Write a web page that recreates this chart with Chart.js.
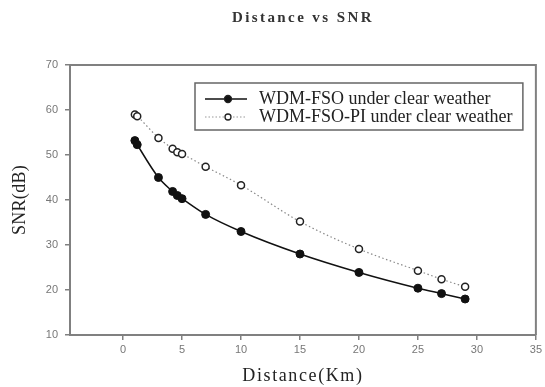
<!DOCTYPE html>
<html><head><meta charset="utf-8">
<script src="https://cdn.jsdelivr.net/npm/chart.js@4/dist/chart.umd.min.js"></script>
<style>html,body{margin:0;padding:0;background:#fff;} #wrap{width:545px;height:387px;}</style>
</head><body><div id="wrap"><canvas id="c" width="545" height="387"></canvas></div>
<script>
const chartTitle = 'Distance vs SNR';
const xTitle = 'Distance(Km)';
const yTitle = 'SNR(dB)';
const seriesLabels = ['WDM-FSO under clear weather', 'WDM-FSO-PI under clear weather'];
const distanceKm = [1, 1.2, 3, 4.2, 4.6, 5, 7, 10, 15, 20, 25, 27, 29];
const snrWdmFso = [53.2, 52.3, 45, 41.9, 41, 40.3, 36.8, 33, 28, 23.9, 20.4, 19.2, 18];
const snrWdmFsoPi = [59, 58.6, 53.8, 51.4, 50.6, 50.2, 47.4, 43.3, 35.2, 29.1, 24.3, 22.4, 20.7];
const xTicks = [0, 5, 10, 15, 20, 25, 30, 35];
const yTicks = [10, 20, 30, 40, 50, 60, 70];

const toPts = (ys) => distanceKm.map((x, i) => ({ x: x, y: ys[i] }));

const spacingPlugin = {
  id: 'spacing',
  afterLayout(chart) {
    const wrap = (obj, method, sp, centerOnArea) => {
      if (!obj || obj['_w_' + method]) return;
      const orig = obj[method];
      obj[method] = function (...a) {
        const c = chart.ctx; c.save(); c.letterSpacing = sp;
        if (centerOnArea) {
          const ca = chart.chartArea;
          c.translate((ca.left + ca.right) / 2 - (this.left + this.right) / 2, 0);
        }
        const r = orig.apply(this, a); c.restore(); return r;
      };
      obj['_w_' + method] = true;
    };
    wrap(chart.titleBlock, 'draw', '2.4px', true);
    wrap(chart.scales.x, 'drawTitle', '1.6px', false);
    wrap(chart.scales.y, 'drawTitle', '0.3px', false);
  }
};

const framePlugin = {
  id: 'frame',
  beforeDatasetsDraw(chart) {
    const { ctx, chartArea: a } = chart;
    ctx.save();
    ctx.strokeStyle = '#808080';
    ctx.lineWidth = 2;
    ctx.beginPath();
    ctx.moveTo(a.left, a.top); ctx.lineTo(a.right, a.top); ctx.lineTo(a.right, a.bottom);
    ctx.stroke();
    ctx.restore();
  }
};

const legendPlugin = {
  id: 'insideLegend',
  afterDatasetsDraw(chart) {
    const { ctx, chartArea: a } = chart;
    const L = a.left + 125, T = a.top + 18, R = a.right - 13, B = a.top + 65;
    ctx.save();
    ctx.fillStyle = '#fff';
    ctx.fillRect(L, T, R - L, B - T);
    ctx.strokeStyle = '#666';
    ctx.lineWidth = 1.5;
    ctx.strokeRect(L, T, R - L, B - T);
    const rows = [T + 16, T + 34];
    chart.data.datasets.forEach((ds, i) => {
      const y = rows[i];
      ctx.beginPath();
      ctx.setLineDash(i === 0 ? [] : [1.5, 2]);
      ctx.strokeStyle = i === 0 ? '#111' : '#999';
      ctx.lineWidth = i === 0 ? 1.5 : 1.2;
      ctx.moveTo(L + 10, y); ctx.lineTo(L + 52, y); ctx.stroke();
      ctx.setLineDash([]);
      ctx.beginPath();
      ctx.arc(L + 33, y, i === 0 ? 3.5 : 3, 0, Math.PI * 2);
      ctx.fillStyle = i === 0 ? '#111' : '#fff';
      ctx.fill();
      ctx.strokeStyle = '#222';
      ctx.lineWidth = 1.3;
      ctx.stroke();
      ctx.fillStyle = '#222';
      ctx.font = '18px "Liberation Serif", "Times New Roman", serif';
      ctx.textBaseline = 'middle';
      ctx.textAlign = 'left';
      ctx.fillText(ds.label, L + 64, y + 0.5);
    });
    ctx.restore();
  }
};

new Chart(document.getElementById('c'), {
  type: 'scatter',
  data: {
    datasets: [
      {
        label: seriesLabels[0],
        data: toPts(snrWdmFso),
        showLine: true,
        borderColor: '#111',
        backgroundColor: '#111',
        borderWidth: 1.5,
        pointRadius: 4,
        pointBorderWidth: 1,
        pointBorderColor: '#111',
        pointBackgroundColor: '#111',
        cubicInterpolationMode: 'monotone'
      },
      {
        label: seriesLabels[1],
        data: toPts(snrWdmFsoPi),
        showLine: true,
        borderColor: '#888',
        borderDash: [1.5, 2.5],
        borderWidth: 1.2,
        pointRadius: 3.5,
        pointBorderWidth: 1.5,
        pointBorderColor: '#222',
        pointBackgroundColor: '#fff',
        cubicInterpolationMode: 'monotone'
      }
    ]
  },
  options: {
    responsive: false,
    animation: false,
    layout: { padding: { left: 0, right: 9, top: 0, bottom: 0 } },
    plugins: {
      legend: { display: false },
      tooltip: { enabled: false },
      title: {
        display: true,
        text: chartTitle,
        color: '#333',
        font: { family: '"Liberation Serif", "Times New Roman", serif', size: 15, weight: 'bold' },
        padding: { top: 9, bottom: 38 }
      }
    },
    scales: {
      x: {
        type: 'linear',
        min: -4.5,
        max: 35,
        afterBuildTicks: (s) => { s.ticks = xTicks.map(v => ({ value: v })); },
        afterFit: (s) => { s.height = 52; },
        grid: { drawOnChartArea: false, drawTicks: true, tickLength: 5, color: '#808080', lineWidth: 1.5 },
        border: { display: true, color: '#808080', width: 2 },
        ticks: { color: '#777', font: { family: '"Liberation Sans", Arial, sans-serif', size: 11 }, padding: 3, maxRotation: 0, autoSkip: false },
        title: {
          display: true, text: xTitle, color: '#222',
          font: { family: '"Liberation Serif", "Times New Roman", serif', size: 18 },
          padding: { top: 0, bottom: 0 }
        }
      },
      y: {
        type: 'linear',
        min: 10,
        max: 70,
        afterBuildTicks: (s) => { s.ticks = yTicks.map(v => ({ value: v })); },
        afterFit: (s) => { s.width = 70; },
        grid: { drawOnChartArea: false, drawTicks: true, tickLength: 5, color: '#808080', lineWidth: 1.5 },
        border: { display: true, color: '#808080', width: 2 },
        ticks: { color: '#777', font: { family: '"Liberation Sans", Arial, sans-serif', size: 11 }, padding: 7 },
        title: {
          display: true, text: yTitle, color: '#222',
          font: { family: '"Liberation Serif", "Times New Roman", serif', size: 18 },
          padding: { top: 9, bottom: 0 }
        }
      }
    }
  },
  plugins: [spacingPlugin, framePlugin, legendPlugin]
});
</script>
</body></html>
